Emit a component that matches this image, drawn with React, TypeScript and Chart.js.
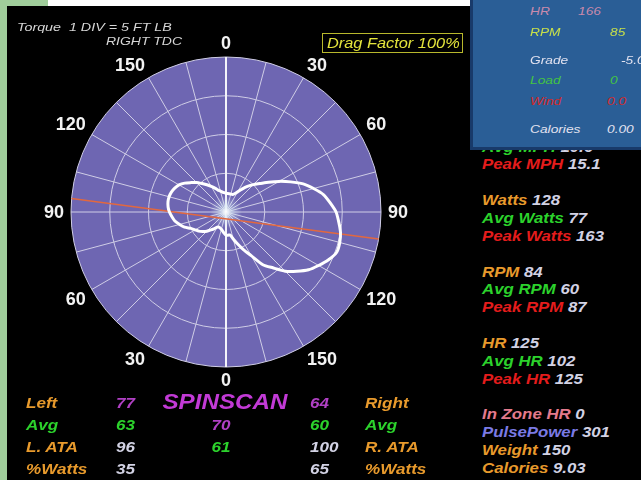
import React, { useEffect, useRef } from 'react';
import { Chart, registerables } from 'chart.js';

Chart.register(...registerables);

// ---------------- DATA ----------------
// crank angle (degrees, clockwise from right TDC)
const crankAngles = [
  0, 5, 10, 15, 20, 25, 30, 35, 40, 45, 50, 55,
  60, 65, 70, 75, 80, 85, 90, 95, 100, 105, 110, 115,
  120, 125, 130, 135, 140, 145, 150, 155, 160, 165, 170, 175,
  180, 185, 190, 195, 200, 205, 210, 215, 220, 225, 230, 235,
  240, 245, 250, 255, 260, 265, 270, 275, 280, 285, 290, 295,
  300, 305, 310, 315, 320, 325, 330, 335, 340, 345, 350, 355,
];
// torque (ft-lb) at each crank angle
const torqueFtLb = [
  2.4, 2.4, 2.4, 2.4, 2.4, 2.6, 3.0, 3.6, 4.3, 5.0, 5.7, 6.7,
  7.9, 9.2, 10.6, 11.7, 12.8, 13.5, 14.2, 14.6, 15.0, 15.2, 15.2, 14.6,
  13.8, 13.0, 11.9, 10.8, 9.4, 8.3, 6.5, 5.4, 4.4, 3.6, 3.0, 3.0,
  3.0, 2.75, 2.5, 2.3, 2.2, 2.15, 2.25, 2.6, 3.0, 3.5, 3.9, 4.3,
  4.6, 5.0, 5.7, 6.2, 6.7, 7.0, 7.3, 7.5, 7.6, 7.6, 7.5, 7.3,
  7.0, 6.5, 5.9, 5.4, 4.8, 4.3, 3.8, 3.4, 3.0, 2.8, 2.6, 2.5,
];
// red reference line end angles and scale
const dragLineAngles = [100, 275];
const torqueMax = 20;
const torqueStep = 5;
// spoke labels every 30 degrees
const spokeLabels = ['0', '30', '60', '90', '120', '150', '0', '30', '60', '90', '120', '150'];

const headerLines = ['Torque  1 DIV = 5 FT LB', 'RIGHT TDC'];
const dragFactorText = 'Drag Factor 100%';

const panelLabels = ['HR', 'RPM', 'Grade', 'Load', 'Wind', 'Calories'];
const panelValues = ['166', '85', '-5.0', '0', '0.0', '0.00'];

// right column; null = blank line
const sideLabels = ['Avg MPH', 'Peak MPH', null, 'Watts', 'Avg Watts', 'Peak Watts', null,
  'RPM', 'Avg RPM', 'Peak RPM', null, 'HR', 'Avg HR', 'Peak HR', null,
  'In Zone HR', 'PulsePower', 'Weight', 'Calories'];
const sideValues = ['10.6', '15.1', null, '128', '77', '163', null,
  '84', '60', '87', null, '125', '102', '125', null,
  '0', '301', '150', '9.03'];
const sideKinds = ['avg', 'peak', null, 'cur', 'avg', 'peak', null,
  'cur', 'avg', 'peak', null, 'cur', 'avg', 'peak', null,
  'zone', 'pulse', 'cur', 'cur'];

// bottom table
const leftCol = ['Left', 'Avg', 'L. ATA', '%Watts'];
const leftVals = ['77', '63', '96', '35'];
const midCol = ['SPINSCAN', '70', '61', ''];
const rightVals = ['64', '60', '100', '65'];
const rightCol = ['Right', 'Avg', 'R. ATA', '%Watts'];

// ---------------- STYLE ----------------
const FONT = '"Liberation Sans", Arial, Helvetica, sans-serif';
const ORANGE = '#e89a2c';
const GREEN = '#2cd22c';
const RED = '#e41c1c';
const LIGHT = '#d2d2e4';
const MAGENTA = '#c23ad6';
const kindColor: Record<string, string> = {
  avg: GREEN, peak: RED, cur: ORANGE, zone: '#e47a8c', pulse: '#7a7ae4',
};
const panelColors = ['#c98aac', '#c8e04a', '#e2e2f0', '#44c444', '#d22a2a', '#e2e2f0'];
const leftColColors = [ORANGE, GREEN, ORANGE, ORANGE];
const leftValColors = ['#b040c4', GREEN, LIGHT, LIGHT];
const midColors = [MAGENTA, '#b040c4', GREEN, LIGHT];
const rightValColors = ['#b040c4', GREEN, LIGHT, LIGHT];

type TxtProps = {
  x: number; y: number; size: number; sx: number; weight?: string | number;
  color?: string; align?: 'left' | 'center'; z?: number; children: React.ReactNode;
};
function Txt({ x, y, size, sx, weight = 'bold', color, align = 'left', z = 2, children }: TxtProps) {
  const style: React.CSSProperties = {
    position: 'absolute', left: x, top: y - size * 0.6, whiteSpace: 'pre',
    fontFamily: FONT, fontStyle: 'italic', fontWeight: weight as any, fontSize: size,
    lineHeight: `${size * 1.2}px`, color, zIndex: z,
    transform: align === 'center' ? `translateX(-50%) scaleX(${sx})` : `scaleX(${sx})`,
    transformOrigin: align === 'center' ? '50% 50%' : '0 50%',
  };
  return <div style={style}>{children}</div>;
}

// spoke labels placed with the radial scale's own point positions
const spokeLabelPlugin = {
  id: 'spokeLabels',
  beforeDatasetsDraw(chart: any) {
    const scale = chart.scales.r;
    const ctx = chart.ctx;
    // soft glow at the pole
    const g = ctx.createRadialGradient(scale.xCenter, scale.yCenter, 0, scale.xCenter, scale.yCenter, 16);
    g.addColorStop(0, 'rgba(255,255,255,0.95)');
    g.addColorStop(0.35, 'rgba(215,235,245,0.55)');
    g.addColorStop(1, 'rgba(200,220,240,0)');
    ctx.save();
    ctx.fillStyle = g;
    ctx.beginPath();
    ctx.arc(scale.xCenter, scale.yCenter, 16, 0, Math.PI * 2);
    ctx.fill();
    ctx.restore();
  },
  afterDraw(chart: any) {
    const scale = chart.scales.r;
    const ctx = chart.ctx;
    ctx.save();
    ctx.font = `bold 18px ${FONT}`;
    ctx.fillStyle = '#f2f2f2';
    ctx.textAlign = 'center';
    ctx.textBaseline = 'middle';
    const step = crankAngles.length / spokeLabels.length;
    spokeLabels.forEach((t, k) => {
      const idx = k * step;
      const ang = (crankAngles[idx] * Math.PI) / 180;
      const w = ctx.measureText(t).width;
      const s = Math.sin(ang);
      const c = Math.cos(ang);
      const p = scale.getPointPosition(idx, scale.drawingArea + 7);
      const ox = Math.abs(s) < 1e-6 ? 0 : Math.sign(s) * w / 2;
      const oy = Math.abs(c) < 1e-6 ? 0 : -Math.sign(c) * 6.5;
      ctx.fillText(t, p.x + ox, p.y + oy + 1);
    });
    ctx.restore();
  },
};

function PolarChart() {
  const ref = useRef<HTMLCanvasElement>(null);
  useEffect(() => {
    const dragLineData = crankAngles.map((a) => (dragLineAngles.includes(a) ? torqueMax : null));
    const chart = new Chart(ref.current as HTMLCanvasElement, {
      type: 'radar',
      data: {
        labels: crankAngles.map(String),
        datasets: [
          {
            data: torqueFtLb, borderColor: '#ffffff', borderWidth: 3, pointRadius: 0,
            fill: false, tension: 0.2,
          },
          {
            data: dragLineData as any, borderColor: '#e2683f', borderWidth: 1.5, pointRadius: 0,
            fill: false, spanGaps: true,
          },
        ],
      },
      options: {
        responsive: false,
        animation: false,
        events: [],
        layout: { padding: 30 },
        plugins: { legend: { display: false }, tooltip: { enabled: false } },
        scales: {
          r: {
            min: 0, max: torqueMax,
            backgroundColor: '#6e66b2',
            ticks: { display: false, stepSize: torqueStep },
            grid: { circular: true, color: '#cfcde6', lineWidth: 1 },
            angleLines: {
              display: true,
              color: (ctx: any) => (ctx.index % 36 === 0 ? '#f4f4fa' : '#cfcde6'),
              lineWidth: (ctx: any) => (ctx.index % 3 !== 0 ? 0 : ctx.index % 36 === 0 ? 2 : 1),
            },
            pointLabels: { display: false },
          },
        },
      } as any,
      plugins: [spokeLabelPlugin],
    });
    return () => chart.destroy();
  }, []);
  return (
    <canvas ref={ref} width={370} height={370}
      style={{ position: 'absolute', left: 41, top: 27, zIndex: 1 }} />
  );
}

export default function App() {
  const panelY = [11.7, 32.3, 61, 81, 101.7, 130];
  const panelValX = [578, 610, 621, 610, 607, 607];
  const rowY = [403, 425, 447, 469];
  return (
    <div style={{ position: 'fixed', left: 0, top: 0, width: 641, height: 480, background: '#000', overflow: 'hidden' }}>
      {/* frame pieces */}
      <div style={{ position: 'absolute', left: 0, top: 0, width: 7, height: 480, background: '#a0cd9b' }} />
      <div style={{ position: 'absolute', left: 0, top: 0, width: 48, height: 6, background: '#a0cd9b' }} />
      <div style={{ position: 'absolute', left: 48, top: 0, width: 422, height: 6, background: '#ffffff' }} />

      <PolarChart />

      {/* header */}
      <Txt x={17} y={28} size={11} sx={1.3} weight="normal" color="#d6d6d6">{headerLines[0]}</Txt>
      <Txt x={106} y={42} size={11} sx={1.27} weight="normal" color="#d6d6d6">{headerLines[1]}</Txt>
      <div style={{ position: 'absolute', left: 322, top: 33, width: 141, height: 20, boxSizing: 'border-box', border: '1.5px solid #b8b82c', zIndex: 2 }} />
      <Txt x={327} y={42.5} size={15} sx={1.09} weight="normal" color="#e4e43c">{dragFactorText}</Txt>

      {/* right column (partly hidden under panel) */}
      {sideLabels.map((lab, i) =>
        lab === null ? null : (
          <Txt key={'s' + i} x={482} y={147 + i * 17.85} size={14} sx={1.2} color={kindColor[sideKinds[i] as string]} z={2}>
            {lab}<span style={{ color: LIGHT }}>{' ' + sideValues[i]}</span>
          </Txt>
        ))}

      {/* blue panel */}
      <div style={{
        position: 'absolute', left: 470, top: 0, width: 171, height: 150, boxSizing: 'border-box',
        background: '#2a5e96', borderLeft: '3px solid #183a6a', borderBottom: '3px solid #183a6a', zIndex: 3,
      }} />
      {panelLabels.map((lab, i) => (
        <React.Fragment key={'p' + i}>
          <Txt x={530} y={panelY[i]} size={11} sx={1.25} weight="normal" color={panelColors[i]} z={4}>{lab}</Txt>
          <Txt x={panelValX[i]} y={panelY[i]} size={11} sx={1.25} weight="normal" color={panelColors[i]} z={4}>{panelValues[i]}</Txt>
        </React.Fragment>
      ))}

      {/* bottom table */}
      {rowY.map((y, i) => (
        <React.Fragment key={'b' + i}>
          <Txt x={26} y={y} size={14} sx={1.22} color={leftColColors[i]}>{leftCol[i]}</Txt>
          <Txt x={116} y={y} size={14} sx={1.22} color={leftValColors[i]}>{leftVals[i]}</Txt>
          {i === 0 ? (
            <Txt x={224.5} y={y - 1} size={22} sx={1.1} color={midColors[i]} align="center">{midCol[i]}</Txt>
          ) : (
            <Txt x={220.5} y={y} size={14} sx={1.22} color={midColors[i]} align="center">{midCol[i]}</Txt>
          )}
          <Txt x={310} y={y} size={14} sx={1.22} color={rightValColors[i]}>{rightVals[i]}</Txt>
          <Txt x={365} y={y} size={14} sx={1.22} color={leftColColors[i]}>{rightCol[i]}</Txt>
        </React.Fragment>
      ))}
    </div>
  );
}
